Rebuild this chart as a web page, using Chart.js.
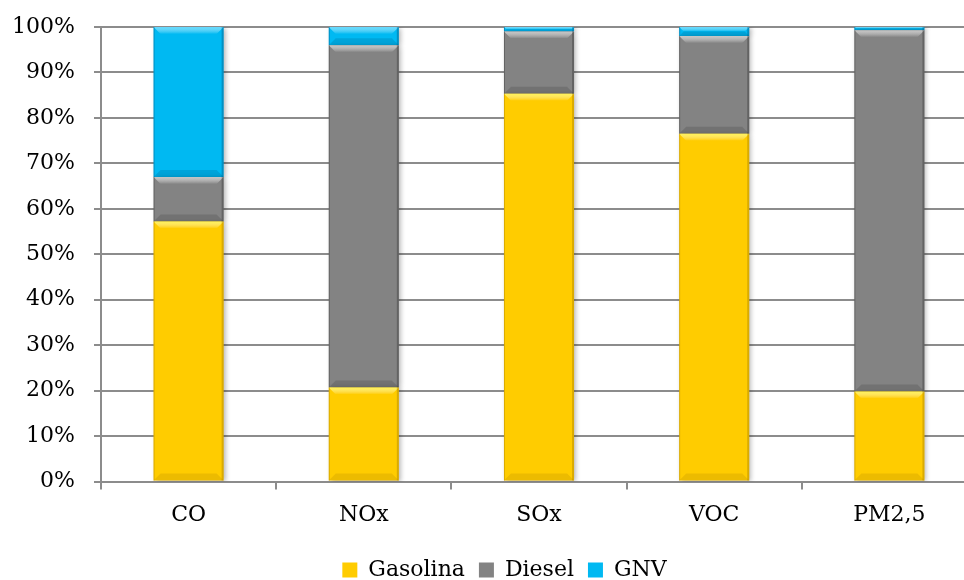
<!DOCTYPE html>
<html>
<head>
<meta charset="utf-8">
<script src="https://cdn.jsdelivr.net/npm/chart.js@4.4.1/dist/chart.umd.min.js"></script>
<style>
  html, body { margin: 0; padding: 0; background: #fff; overflow: hidden; }
  #wrap { position: absolute; left: 0; top: 0; width: 1008px; height: 580px; }
</style>
</head>
<body>
<div id="wrap"><canvas id="emisChart" width="1008" height="580"></canvas></div>
<script>
// Emissões por combustível (participação %)
var categories = ['CO', 'NOx', 'SOx', 'VOC', 'PM2,5'];
var seriesNames = ['Gasolina', 'Diesel', 'GNV'];
var gasolina = [57.2, 20.7, 85.3, 76.5, 19.8];
var diesel = [9.8, 75.3, 13.7, 21.5, 79.5];
var gnv = [33.0, 4.0, 1.0, 2.0, 0.7];
var yTicks = [0, 10, 20, 30, 40, 50, 60, 70, 80, 90, 100];

var fills = ['#FFCC00', '#838383', '#00B9F2'];
var lights = ['rgba(255,245,90,0.95)', 'rgba(205,205,205,0.9)', 'rgba(110,220,255,0.9)'];
var darks = ['rgba(150,110,0,0.35)', 'rgba(40,40,40,0.35)', 'rgba(0,70,110,0.35)'];

// bevelled look like the office chart
var bevelPlugin = {
  id: 'bevel',
  beforeDatasetsDraw: function(chart) {
    var ctx = chart.ctx;
    ctx.save();
    ctx.shadowColor = 'rgba(0,0,0,0.3)';
    ctx.shadowBlur = 5;
    ctx.shadowOffsetX = 2;
    ctx.shadowOffsetY = 1;
  },
  afterDatasetsDraw: function(chart) {
    var ctx = chart.ctx;
    ctx.restore();
    chart.data.datasets.forEach(function(ds, i) {
      var meta = chart.getDatasetMeta(i);
      if (meta.hidden) return;
      meta.data.forEach(function(bar) {
        var p = bar.getProps(['x', 'y', 'base', 'width'], true);
        var l = p.x - p.width / 2, r = p.x + p.width / 2;
        var t = Math.min(p.y, p.base), b = Math.max(p.y, p.base);
        var h = b - t;
        if (h < 1) return;
        var s = Math.min(7, h / 2);
        ctx.save();
        // top highlight
        var g = ctx.createLinearGradient(0, t, 0, t + s);
        g.addColorStop(0, lights[i]);
        g.addColorStop(1, 'rgba(255,255,255,0)');
        ctx.fillStyle = g;
        ctx.beginPath();
        ctx.moveTo(l, t); ctx.lineTo(r, t); ctx.lineTo(r - s, t + s); ctx.lineTo(l + s, t + s);
        ctx.closePath(); ctx.fill();
        // bottom shade
        ctx.fillStyle = darks[i];
        ctx.globalAlpha = 0.5;
        ctx.beginPath();
        ctx.moveTo(l, b); ctx.lineTo(r, b); ctx.lineTo(r - s, b - s); ctx.lineTo(l + s, b - s);
        ctx.closePath(); ctx.fill();
        ctx.globalAlpha = 1;
        // sides
        ctx.fillStyle = darks[i];
        ctx.fillRect(r - 2, t, 2, h);
        ctx.fillRect(l, t, 1, h);
        ctx.restore();
      });
    });
  }
};

// the legend sits centred under the whole (cropped) chart, not under the padded box
var legendShift = {
  id: 'legendShift',
  afterLayout: function(chart) {
    var lg = chart.legend;
    if (!lg) return;
    lg.left += 10; lg.right += 10;
    lg.top += 4; lg.bottom += 4;
  }
};

var ctx = document.getElementById('emisChart').getContext('2d');
new Chart(ctx, {
  type: 'bar',
  data: {
    labels: categories,
    datasets: [gasolina, diesel, gnv].map(function(vals, i) {
      return {
        label: seriesNames[i],
        data: vals,
        backgroundColor: fills[i],
        borderWidth: 0,
        barPercentage: 0.4,
        categoryPercentage: 1
      };
    })
  },
  options: {
    responsive: false,
    animation: false,
    layout: { padding: { left: 12, right: 31, top: 27, bottom: -7 } },
    plugins: {
      tooltip: { enabled: false },
      legend: {
        position: 'bottom',
        labels: {
          font: { family: 'DejaVu Serif', size: 22 },
          color: '#000',
          boxWidth: 15,
          boxHeight: 15,
          padding: 14
        }
      }
    },
    scales: {
      x: {
        stacked: true,
        grid: { offset: true, drawOnChartArea: false, drawTicks: true, tickLength: 8, color: '#8c8c8c', lineWidth: 2 },
        border: { display: true, color: '#8c8c8c', width: 2 },
        ticks: { font: { family: 'DejaVu Serif', size: 22 }, color: '#000', padding: 12.5 }
      },
      y: {
        stacked: true,
        min: 0,
        max: 100,
        afterBuildTicks: function(axis) { axis.ticks = yTicks.map(function(v) { return { value: v }; }); },
        afterFit: function(axis) { axis.width = 89; },
        grid: { color: '#8c8c8c', lineWidth: 2, tickLength: 7 },
        border: { display: true, color: '#8c8c8c', width: 2 },
        ticks: {
          font: { family: 'DejaVu Serif', size: 22, lineHeight: 0.5 },
          color: '#000',
          padding: 19,
          callback: function(v) { return v + '%'; }
        }
      }
    }
  },
  plugins: [bevelPlugin, legendShift]
});
</script>
</body>
</html>
